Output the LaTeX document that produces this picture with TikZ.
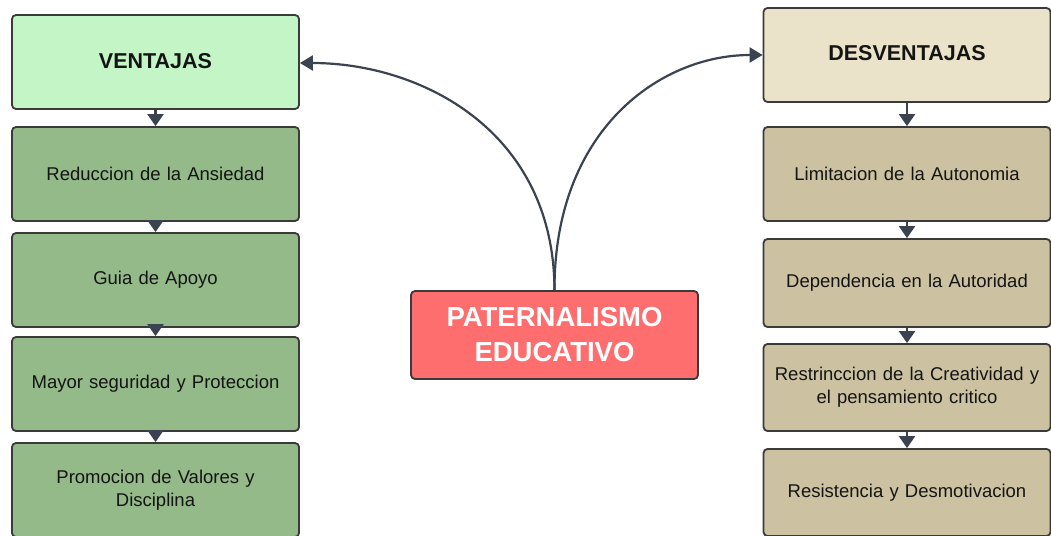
\documentclass[tikz,border=0pt]{standalone}
\usepackage{fontspec}
\setmainfont{Liberation Sans}
\usetikzlibrary{arrows.meta}
\definecolor{bordc}{HTML}{3A3A3A}
\definecolor{arrc}{HTML}{3B4250}
\definecolor{venfill}{HTML}{C3F5C6}
\definecolor{grnfill}{HTML}{94BA89}
\definecolor{desfill}{HTML}{EAE3C9}
\definecolor{tanfill}{HTML}{CCC2A1}
\definecolor{redfill}{HTML}{FF6E6E}
\definecolor{txtc}{HTML}{141414}
\tikzset{
  box/.style={draw=bordc, line width=1.8pt, rounded corners=4pt, rectangle,
    minimum width=287pt, inner sep=0pt, text width=280pt, align=center,
    text=txtc, font=\fontsize{18.5}{23}\selectfont},
  headbox/.style={box, minimum height=94pt, font=\fontsize{21.5}{26}\selectfont\bfseries},
  arr/.style={draw=arrc, line width=2.2pt, -{Triangle[width=16pt,length=12pt]}},
  curvearr/.style={draw=arrc, line width=2.2pt, -{Triangle[width=15pt,length=13pt]}}
}
\begin{document}
\begin{tikzpicture}[x=1pt,y=-1pt]
\useasboundingbox (0,0) rectangle (1051,535);
\clip (0,0) rectangle (1051,535);
\fill[white] (0,0) rectangle (1051,535);
% left column
\node[headbox, fill=venfill] (ven) at (155.5,62) {\raisebox{3pt}{VENTAJAS}};
\node[box, fill=grnfill, minimum height=94pt] (l1) at (155.5,174) {Reduccion de la Ansiedad};
\node[box, fill=grnfill, minimum height=94pt] (l2) at (155.5,280) {Guia de Apoyo};
\node[box, fill=grnfill, minimum height=94pt] (l3) at (155.5,384) {Mayor seguridad y Proteccion};
\node[box, fill=grnfill, minimum height=94pt] (l4) at (155.5,490) {Promocion de Valores y\\Disciplina};
% right column
\node[headbox, fill=desfill] (des) at (907,55) {\raisebox{4pt}{DESVENTAJAS}};
\node[box, fill=tanfill, minimum height=94pt] (r1) at (907,174) {Limitacion de la Autonomia};
\node[box, fill=tanfill, minimum height=88pt] (r2) at (907,283) {Dependencia en la Autoridad};
\node[box, fill=tanfill, minimum height=87pt] (r3) at (907,387.5) {Restrinccion de la Creatividad y\\el pensamiento critico};
\node[box, fill=tanfill, minimum height=87pt] (r4) at (907,492.5) {Resistencia y Desmotivacion};
% center
\node[box, fill=redfill, minimum height=88pt, text=white,
  font=\fontsize{27.5}{35}\selectfont\bfseries] (pat) at (554.5,335) {PATERNALISMO\\EDUCATIVO};
% connectors
\draw[arr] (ven.south) -- (l1.north);
\draw[arr] (l1.south) -- (l2.north);
\draw[arr] (l2.south) -- (l3.north);
\draw[arr] (l3.south) -- (l4.north);
\draw[arr] (des.south) -- (r1.north);
\draw[arr] (r1.south) -- (r2.north);
\draw[arr] (r2.south) -- (r3.north);
\draw[arr] (r3.south) -- (r4.north);
\coordinate (vtip) at (ven.east |- 0,63);
\coordinate (dtip) at (des.west |- 0,55);
\draw[curvearr] (pat.north) .. controls (554,130) and (420,63) .. (vtip);
\draw[curvearr] (pat.north) .. controls (554,130) and (660,55) .. (dtip);
\end{tikzpicture}
\end{document}
